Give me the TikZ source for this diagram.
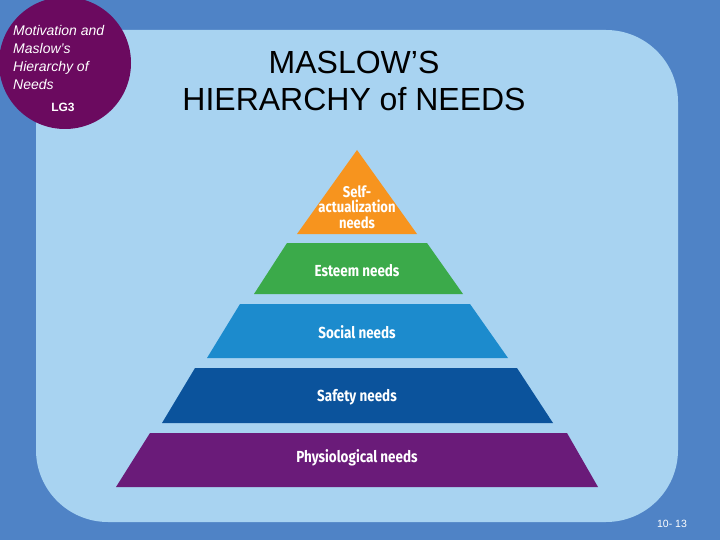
\documentclass[tikz,border=0pt]{standalone}
\usepackage{fontspec}
\setmainfont{Liberation Sans}
\newfontfamily\pyrfont[FakeStretch=0.84]{Fira Sans}
\definecolor{bgdark}{HTML}{4F83C6}
\definecolor{bglight}{HTML}{A8D3F1}
\definecolor{circpurple}{HTML}{6B0A5F}
\definecolor{porange}{HTML}{F7941E}
\definecolor{pgreen}{HTML}{3BAA4A}
\definecolor{plblue}{HTML}{1C8BCD}
\definecolor{pdblue}{HTML}{0B539C}
\definecolor{ppurple}{HTML}{6A1B79}
\tikzset{
  lvl/.style={font=\pyrfont\bfseries\fontsize{16}{17}\selectfont, text=white, align=center, inner sep=0pt},
}
\begin{document}
\begin{tikzpicture}[x=1pt,y=-1pt]
\useasboundingbox (0,0) rectangle (720,540);
\fill[bgdark] (0,0) rectangle (720,540);
\fill[bglight, rounded corners=72pt] (36,30) rectangle (678,522);
% circle badge
\fill[circpurple] (65,63) circle (66);
\node[anchor=north west, inner sep=0pt, align=left, text=white,
  font=\itshape\fontsize{14}{18}\selectfont] (badge) at (13,25)
  {Motivation and\\Maslow's\\Hierarchy of\\Needs};
\node[text=white, font=\bfseries\fontsize{12}{14}\selectfont, inner sep=0pt] (lg) at (63,107) {LG3};
% title
\node[align=center, font=\fontsize{32}{37}\selectfont, inner sep=0pt] (title) at (354,81)
  {MASLOW'S\\HIERARCHY of NEEDS};
% pyramid
\fill[porange] (357,150) -- (417,234) -- (297,234) -- cycle;
\fill[pgreen] (287,243) -- (427,243) -- (463,294) -- (254,294) -- cycle;
\fill[plblue] (240,304) -- (470,304) -- (508,358) -- (207,358) -- cycle;
\fill[pdblue] (195,368) -- (517,368) -- (553,423) -- (162,423) -- cycle;
\fill[ppurple] (150,433) -- (567,433) -- (598,487) -- (116,487) -- cycle;
\node[lvl, font=\pyrfont\bfseries\fontsize{15.5}{15.5}\selectfont] (self) at (357,207) {Self-\\actualization\\needs};
\node[lvl] (esteem) at (357,271) {Esteem needs};
\node[lvl] (social) at (357,332) {Social needs};
\node[lvl] (safety) at (357,397) {Safety needs};
\node[lvl] (phys) at (357,458) {Physiological needs};
% page number
\node[text=white, font=\fontsize{10.5}{11}\selectfont, inner sep=0pt] (pg) at (672,524) {10- 13};
\end{tikzpicture}
\end{document}
